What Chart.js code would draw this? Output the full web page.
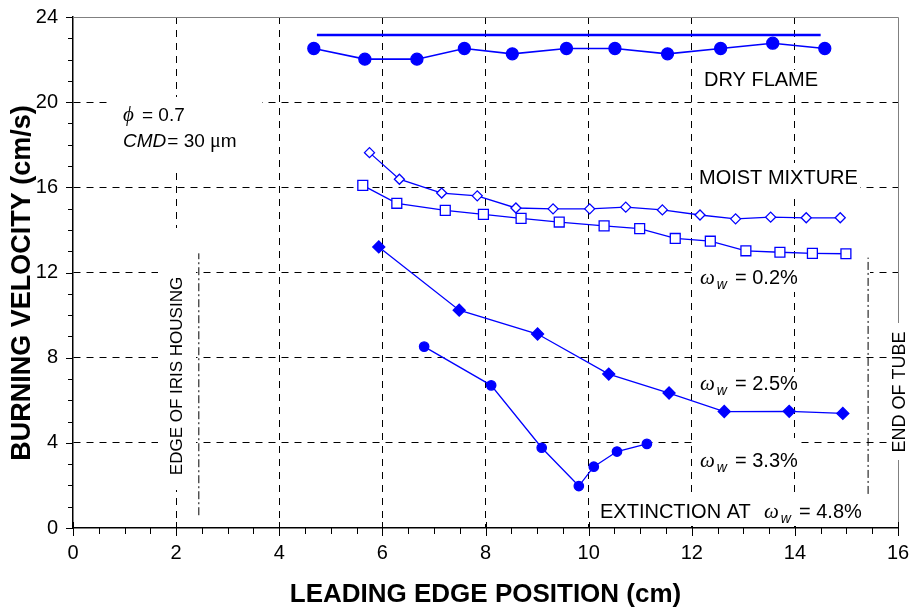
<!DOCTYPE html>
<html>
<head>
<meta charset="utf-8">
<script src="https://cdn.jsdelivr.net/npm/chart.js@4.4.1/dist/chart.umd.min.js"></script>
<style>
  html, body { margin: 0; padding: 0; background: #fff; }
  #wrap { width: 912px; height: 612px; }
</style>
</head>
<body>
<div id="wrap"><canvas id="graph" width="912" height="612"></canvas></div>
<script>
// series (x: leading edge position in cm, y: burning velocity in cm/s)
const dryX = [4.67, 5.66, 6.67, 7.59, 8.52, 9.57, 10.51, 11.53, 12.56, 13.57, 14.58];
const dryY = [22.52, 22.02, 22.02, 22.52, 22.27, 22.52, 22.52, 22.27, 22.52, 22.77, 22.52];
const dryRefX = [4.73, 14.5];
const dryRefY = [23.15, 23.15];

const moistX = [5.75, 6.33, 7.15, 7.84, 8.59, 9.31, 10.02, 10.72, 11.43, 12.16, 12.85, 13.53, 14.22, 14.88];
const moistY = [17.63, 16.38, 15.73, 15.60, 15.03, 14.99, 14.99, 15.07, 14.94, 14.70, 14.52, 14.60, 14.57, 14.57];

const w02X = [5.62, 6.28, 7.22, 7.96, 8.69, 9.43, 10.30, 10.99, 11.68, 12.36, 13.05, 13.71, 14.34, 14.99];
const w02Y = [16.09, 15.25, 14.92, 14.73, 14.54, 14.37, 14.19, 14.06, 13.60, 13.47, 13.02, 12.95, 12.90, 12.88];

const w25X = [5.93, 7.49, 9.01, 10.39, 11.56, 12.63, 13.89, 14.93];
const w25Y = [13.20, 10.23, 9.11, 7.23, 6.34, 5.47, 5.48, 5.38];

const w33X = [6.81, 8.11, 9.09, 9.81, 10.10, 10.55, 11.13];
const w33Y = [8.52, 6.70, 3.77, 1.97, 2.88, 3.59, 3.95];

// vertical marker lines
const irisX = [2.44, 2.44];
const irisY = [0.6, 12.9];
const tubeX = [15.42, 15.42];
const tubeY = [1.6, 12.7];

const xTicks = [0, 2, 4, 6, 8, 10, 12, 14, 16];
const yTicks = [0, 4, 8, 12, 16, 20, 24];

const BLUE = '#0000ff';
const SANS = '"Liberation Sans", Arial, sans-serif';
const SERIF = '"Liberation Serif", "Times New Roman", serif';

function pts(xs, ys) {
    return xs.map((x, i) => ({ x: x, y: ys[i] }));
}

function series(label, xs, ys, style) {
    return Object.assign({
        label: label,
        data: pts(xs, ys),
        showLine: true,
        borderColor: BLUE,
        backgroundColor: BLUE,
        pointBorderColor: BLUE,
        borderWidth: 1.3,
        pointBorderWidth: 1.3,
        tension: 0
    }, style);
}

// white boxes behind the text labels (they hide the grid, like the original text boxes)
const boxes = [
    [112, 97, 150, 76],
    [158, 228, 38, 262],
    [700, 70, 120, 23],
    [695, 163, 165, 30],
    [697, 262, 173, 30],
    [697, 372, 103, 24],
    [697, 438, 101, 34],
    [596, 497, 270, 29],
    [890, 323, 20, 137]
];

function omegaLabel(ctx, x, base, rest) {
    ctx.font = 'italic 21px ' + SERIF;
    ctx.fillText('\u03c9', x, base);
    let w = ctx.measureText('\u03c9').width;
    ctx.font = 'italic 14px ' + SANS;
    ctx.fillText('w', x + w + 2, base + 5);
    ctx.font = '20px ' + SANS;
    ctx.fillText(rest, x + 35, base);
}

const decorations = {
    id: 'decorations',
    beforeDatasetsDraw(chart) {
        const ctx = chart.ctx;
        const a = chart.chartArea;
        const xs = chart.scales.x, ys = chart.scales.y;
        ctx.save();

        // top and right frame
        ctx.strokeStyle = '#808080';
        ctx.lineWidth = 1;
        ctx.setLineDash([]);
        ctx.beginPath();
        ctx.moveTo(a.left, a.top + 0.5);
        ctx.lineTo(a.right + 0.5, a.top + 0.5);
        ctx.lineTo(a.right + 0.5, a.bottom);
        ctx.stroke();

        // tick marks
        ctx.strokeStyle = '#000';
        ctx.lineWidth = 1;
        ctx.beginPath();
        for (let v = 0; v <= 16.001; v += 0.5) {
            const px = Math.round(xs.getPixelForValue(v)) + 0.5;
            const major = Math.abs(v / 2 - Math.round(v / 2)) < 1e-6;
            ctx.moveTo(px, major ? a.bottom - 6 : a.bottom);
            ctx.lineTo(px, a.bottom + (major ? 8 : 6));
        }
        for (let v = 0; v <= 24.001; v += 1) {
            const py = Math.round(ys.getPixelForValue(v)) + 0.5;
            const major = v % 4 === 0;
            ctx.moveTo(a.left - (major ? 7 : 5), py);
            ctx.lineTo(a.left, py);
        }
        ctx.stroke();

        // text boxes
        ctx.fillStyle = '#fff';
        boxes.forEach(b => ctx.fillRect(b[0], b[1], b[2], b[3]));

        ctx.fillStyle = '#000';
        ctx.textBaseline = 'alphabetic';
        ctx.textAlign = 'left';

        ctx.font = 'italic 21px ' + SERIF;
        ctx.fillText('\u03d5', 123, 121);
        ctx.font = '19px ' + SANS;
        ctx.fillText('= 0.7', 142, 121);
        ctx.font = 'italic 19px ' + SANS;
        ctx.fillText('CMD', 123, 147);
        let cw = ctx.measureText('CMD').width;
        ctx.font = '19px ' + SANS;
        ctx.fillText('= 30 ', 123 + cw + 1, 147);
        let ew = ctx.measureText('= 30 ').width;
        ctx.font = '20px ' + SERIF;
        ctx.fillText('\u03bc', 123 + cw + 1 + ew, 147);
        let mw = ctx.measureText('\u03bc').width;
        ctx.font = '19px ' + SANS;
        ctx.fillText('m', 123 + cw + 1 + ew + mw, 147);

        ctx.font = '20px ' + SANS;
        ctx.fillText('DRY FLAME', 704, 86);
        ctx.fillText('MOIST MIXTURE', 699, 184);
        omegaLabel(ctx, 700, 284, '= 0.2%');
        omegaLabel(ctx, 700, 390, '= 2.5%');
        omegaLabel(ctx, 700, 467, '= 3.3%');
        ctx.font = '20px ' + SANS;
        ctx.fillText('EXTINCTION AT', 600, 518);
        omegaLabel(ctx, 764, 518, '= 4.8%');

        ctx.font = '17px ' + SANS;
        ctx.textAlign = 'center';
        ctx.textBaseline = 'middle';
        ctx.save();
        ctx.translate(177, 376);
        ctx.rotate(-Math.PI / 2);
        ctx.fillText('EDGE OF IRIS HOUSING', 0, 0);
        ctx.restore();
        ctx.save();
        ctx.translate(900, 392);
        ctx.rotate(-Math.PI / 2);
        ctx.font = '18px ' + SANS;
        ctx.fillText('END OF TUBE', 0, 0);
        ctx.restore();

        // y axis title, a little below the middle of the plot as in the original
        ctx.save();
        ctx.translate(23, 283);
        ctx.rotate(-Math.PI / 2);
        ctx.font = 'bold 27px ' + SANS;
        ctx.fillText('BURNING VELOCITY (cm/s)', 0, 0);
        ctx.restore();

        ctx.restore();
    }
};

function edgeGrid(max) {
    return ctx => (ctx.tick && (ctx.tick.value === 0 || ctx.tick.value === max)) ? 'rgba(0,0,0,0)' : '#000';
}

const ctx = document.getElementById('graph').getContext('2d');

const config = {
    type: 'scatter',
    data: {
        datasets: [
            series('dry reference', dryRefX, dryRefY, { borderWidth: 2.5, pointRadius: 0 }),
            series('dry flame', dryX, dryY, { borderWidth: 1.6, pointStyle: 'circle', pointRadius: 6 }),
            series('moist mixture', moistX, moistY, { pointStyle: 'rectRot', pointRadius: 5, backgroundColor: '#fff', pointBackgroundColor: '#fff' }),
            series('0.2%', w02X, w02Y, { pointStyle: 'rect', pointRadius: 7, backgroundColor: '#fff', pointBackgroundColor: '#fff' }),
            series('2.5%', w25X, w25Y, { pointStyle: 'rectRot', pointRadius: 6 }),
            series('3.3%', w33X, w33Y, { pointStyle: 'circle', pointRadius: 4.7 }),
            series('iris', irisX, irisY, { borderColor: '#000', borderWidth: 1, borderDash: [8, 3, 2, 3], pointRadius: 0 }),
            series('tube', tubeX, tubeY, { borderColor: '#000', borderWidth: 1, borderDash: [8, 3, 2, 3], pointRadius: 0 })
        ]
    },
    options: {
        responsive: false,
        animation: false,
        devicePixelRatio: 1,
        layout: { padding: { top: 17, right: 14, left: 0, bottom: 0 } },
        plugins: {
            legend: { display: false },
            tooltip: { enabled: false }
        },
        scales: {
            x: {
                type: 'linear',
                min: 0,
                max: 16,
                afterBuildTicks: s => { s.ticks = xTicks.map(v => ({ value: v })); },
                afterFit: s => { s.height = 84; s.paddingLeft = 0; s.paddingRight = 0; },
                ticks: { color: '#000', font: { family: SANS, size: 20 }, padding: 13, maxRotation: 0 },
                grid: { color: edgeGrid(16), lineWidth: 1, drawTicks: false },
                border: { display: true, color: '#000', width: 1.5, dash: [7, 6] },
                title: {
                    display: true,
                    text: 'LEADING EDGE POSITION (cm)',
                    color: '#000',
                    font: { family: SANS, size: 26, weight: 'bold' },
                    padding: { top: 0, bottom: 2 }
                }
            },
            y: {
                type: 'linear',
                min: 0,
                max: 24,
                afterBuildTicks: s => { s.ticks = yTicks.map(v => ({ value: v })); },
                afterFit: s => { s.width = 73; s.paddingTop = 0; s.paddingBottom = 0; },
                ticks: { color: '#000', font: { family: SANS, size: 20 }, padding: 15 },
                grid: { color: edgeGrid(24), lineWidth: 1, drawTicks: false },
                border: { display: true, color: '#000', width: 1.5, dash: [7, 6] }
            }
        }
    },
    plugins: [decorations]
};

const graph = new Chart(ctx, config);
</script>
</body>
</html>
